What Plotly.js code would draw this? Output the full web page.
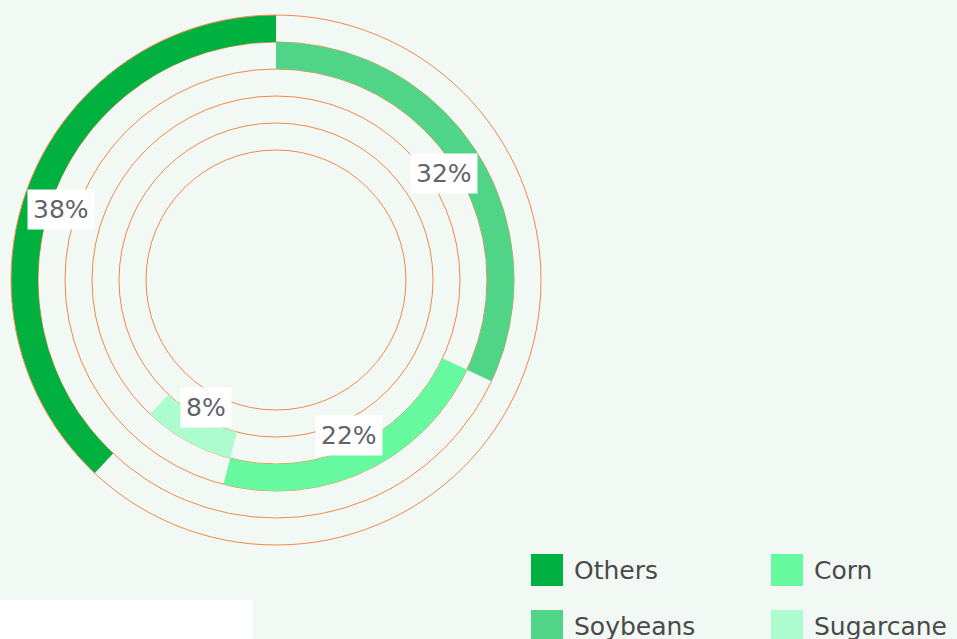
<!DOCTYPE html>
<html>
<head>
<meta charset="utf-8">
<script src="https://cdn.plot.ly/plotly-3.0.1.min.js"></script>
<style>html,body{margin:0;padding:0;background:#f2f9f4;}#chart{width:957px;height:639px;}</style>
</head>
<body>
<div id="chart"></div>
<script>
// Data
const categories = ["Others", "Soybeans", "Corn", "Sugarcane"];
const shares = [38, 32, 22, 8];
const labels = ["38%", "32%", "22%", "8%"];
const colors = ["#00b140", "#4fd488", "#66f99f", "#adfcd0"];
const ringIndex = [0, 1, 2, 3];           // 0 = outermost ring
const legendOrder = ["Others", "Corn", "Soybeans", "Sugarcane"];

// Geometry (pixels)
const W = 957, H = 639;
const cx = 276, cy = 280, R = 265;
const ringW = 27;
const innerR = R - 5 * ringW;   // empty inner ring boundary

const traces = [];
const annos = [];
let cum = 0;
categories.forEach((c, i) => {
  const span = shares[i] * 3.6;
  let start;
  if (i === 0) { start = -span; }
  else { start = cum; cum += span; }
  const mid = start + span / 2;
  const base = R - (ringIndex[i] + 1) * ringW;
  traces.push({
    type: "barpolar",
    name: c,
    theta: [mid],
    width: [span],
    r: [ringW],
    base: [base],
    marker: { color: colors[i], line: { width: 0 } },
    showlegend: false,
    hoverinfo: "skip"
  });
  const lr = base - 12;
  const rad = (i === 0 ? mid - 3.5 : mid) * Math.PI / 180;
  const px = cx + lr * Math.sin(rad);
  const py = cy - lr * Math.cos(rad);
  annos.push({
    xref: "paper", yref: "paper",
    x: px / W, y: 1 - py / H,
    xanchor: "center", yanchor: "middle",
    text: labels[i], showarrow: false,
    font: { family: "DejaVu Sans, sans-serif", size: 25, color: "#61646b", weight: 500 },
    bgcolor: "#ffffff", borderpad: 5
  });
});

// legend (manual, large squares)
const shapes = [];
const legCols = [531, 771], legRows = [570, 626];
legendOrder.forEach((c, k) => {
  const i = categories.indexOf(c);
  const col = k % 2, row = Math.floor(k / 2);
  const x0 = legCols[col], yc = legRows[row];
  shapes.push({
    type: "rect", xref: "paper", yref: "paper",
    x0: x0 / W, x1: (x0 + 32) / W,
    y0: 1 - (yc + 16) / H, y1: 1 - (yc - 16) / H,
    fillcolor: colors[i], line: { width: 0 }
  });
  annos.push({
    xref: "paper", yref: "paper",
    x: (x0 + 41) / W, y: 1 - yc / H,
    xanchor: "left", yanchor: "middle",
    text: c, showarrow: false,
    font: { family: "DejaVu Sans, sans-serif", size: 25, color: "#4a4a4a" }
  });
});
// white box bottom-left
shapes.push({
  type: "rect", xref: "paper", yref: "paper",
  x0: 0, x1: 253 / W, y0: 0, y1: 1 - 600 / H,
  fillcolor: "#ffffff", line: { width: 0 }, layer: "below"
});

const gridVals = [];
for (let k = 0; k < 5; k++) gridVals.push(innerR + k * ringW);

const layout = {
  width: W, height: H,
  margin: { l: 0, r: 0, t: 0, b: 0 },
  paper_bgcolor: "#f2f9f4",
  plot_bgcolor: "#f2f9f4",
  showlegend: false,
  polar: {
    domain: { x: [(cx - R) / W, (cx + R) / W], y: [1 - (cy + R) / H, 1 - (cy - R) / H] },
    bgcolor: "rgba(0,0,0,0)",
    radialaxis: {
      range: [0, R], tickvals: gridVals, showticklabels: false, ticks: "",
      showline: false, gridcolor: "#f4874b", gridwidth: 1
    },
    angularaxis: {
      rotation: 90, direction: "clockwise",
      showgrid: false, showticklabels: false, ticks: "",
      showline: true, linecolor: "#f4874b", linewidth: 1
    },
    bargap: 0
  },
  shapes: shapes,
  annotations: annos
};

Plotly.newPlot("chart", traces, layout, { displayModeBar: false, staticPlot: true });
</script>
</body>
</html>
